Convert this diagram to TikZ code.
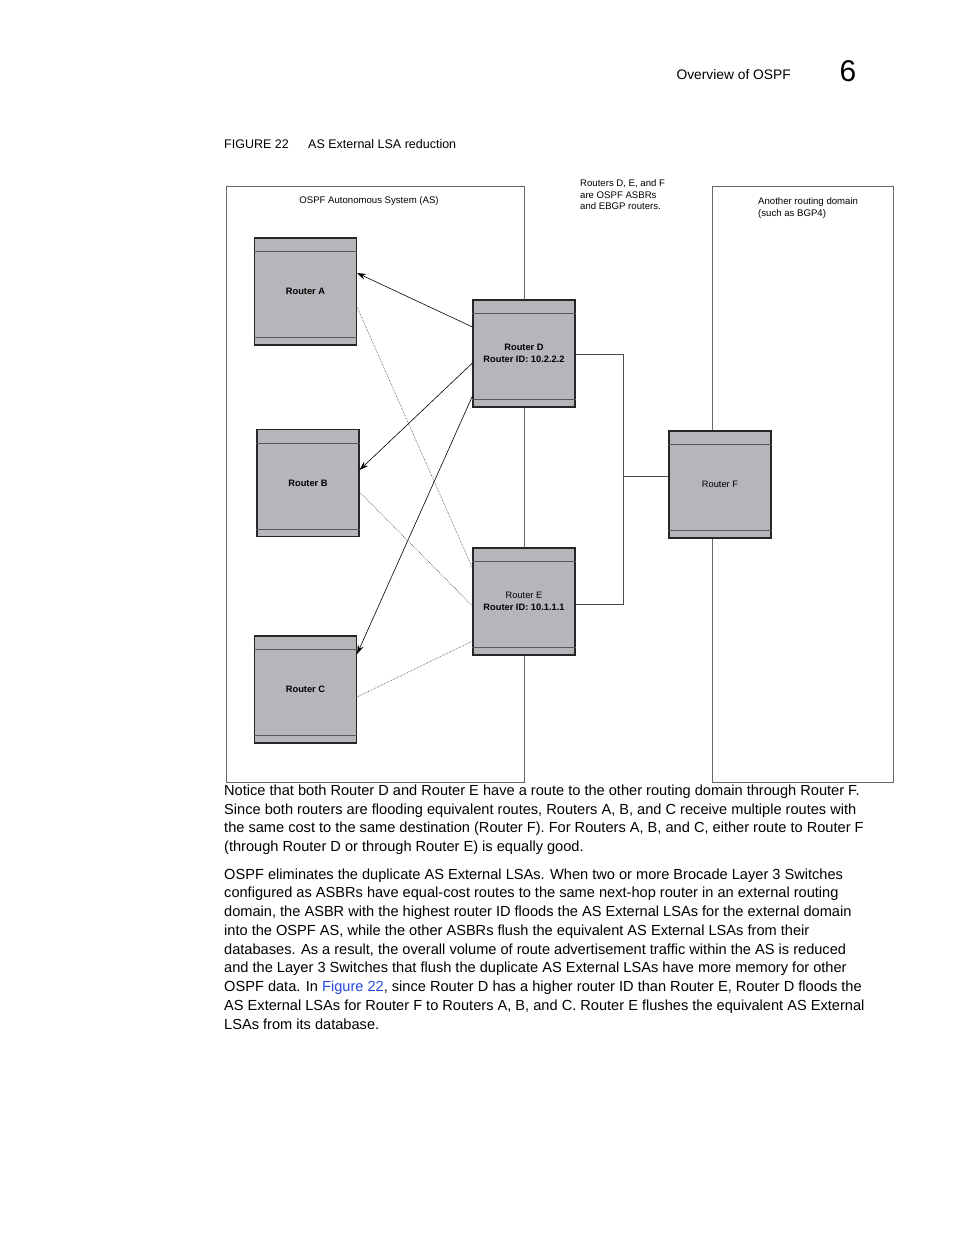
\documentclass[tikz,border=0pt]{standalone}
\usepackage{fontspec}
\setmainfont{Liberation Sans}
\usetikzlibrary{arrows.meta}
\definecolor{routergray}{HTML}{B5B6BA}
\definecolor{linkblue}{HTML}{2447E0}
\begin{document}
\begin{tikzpicture}[x=1pt,y=-1pt,
	router/.style={draw=black!85,line width=1.1pt,fill=routergray,minimum width=102pt,minimum height=107pt,inner sep=0pt,align=center,font=\fontsize{9.3}{11.5}\selectfont\bfseries},
	areabox/.style={draw=black!60,line width=0.6pt},
	band/.style={draw=black!65,line width=0.6pt},
	wire/.style={draw=black!70,line width=0.7pt},
	route/.style={line width=0.6pt,-{Stealth[length=9pt,width=6pt]}},
	flood/.style={line width=0.6pt,black!75,densely dotted},
	smalltext/.style={inner sep=0pt,align=left,font=\fontsize{9.6}{11.5}\selectfont},
	bodytext/.style={anchor=north west,inner sep=0pt,align=left,font=\fontsize{14.6}{18.75}\selectfont}]
	\useasboundingbox (0,0) rectangle (954,1235);
	% page header and caption
	\node[anchor=base east,inner sep=0pt,font=\fontsize{13.8}{16}\selectfont] (header) at (791,79) {Overview of OSPF};
	\node[anchor=base,inner sep=0pt,font=\fontsize{30}{32}\selectfont] (chapter) at (848,81) {6};
	\node[anchor=base west,inner sep=0pt,font=\fontsize{12.5}{15}\selectfont] (figno) at (224,148) {FIGURE 22};
	\node[anchor=base west,inner sep=0pt,font=\fontsize{12.5}{15}\selectfont] (figtitle) at (308,148) {AS External LSA reduction};
	% the two routing domains
	\draw[areabox] (226,186) rectangle (524,782);
	\draw[areabox] (712,186) rectangle (893,782);
	\node[smalltext] (asLabel) at (369,201) {OSPF Autonomous System (AS)};
	\node[smalltext,anchor=north west] (asbrNote) at (580,179.5) {Routers D, E, and F\\are OSPF ASBRs\\and EBGP routers.};
	\node[smalltext,anchor=north west] (bgpNote) at (758,197.5) {Another routing domain\\(such as BGP4)};
	% routers
	\node[router] (A) at (305.5,291.5) {Router A};
	\node[router] (B) at (308,483) {Router B};
	\node[router] (C) at (305.5,689.5) {Router C};
	\node[router] (D) at (524,353.5) {Router D\\Router ID: 10.2.2.2};
	\node[router] (E) at (524,601.5) {\mdseries Router E\\Router ID: \bfseries 10.1.1.1};
	\node[router,font=\fontsize{9.3}{11.5}\selectfont] (F) at (720,484.5) {Router F};
	\foreach \r in {A,B,C,D,E,F} {
		\draw[band] ([yshift=-14pt]\r.north west) -- ([yshift=-14pt]\r.north east);
		\draw[band] ([yshift=8pt]\r.south west) -- ([yshift=8pt]\r.south east);
	}
	% links to router F
	\coordinate (busD) at (623,354);
	\coordinate (busE) at (623,604);
	\coordinate (busF) at (623,476);
	\draw[wire] ([yshift=-0.5pt]D.east) -- (busD) -- (busE) -- ([yshift=-2.5pt]E.east);
	\draw[wire] (busF) -- ([yshift=8.5pt]F.west);
	% routes flooded by D
	\draw[route] ([yshift=26.5pt]D.west) -- ([yshift=18.5pt]A.east);
	\draw[route] ([yshift=-9.5pt]D.west) -- ([yshift=13pt]B.east);
	\draw[route] ([yshift=-42.5pt]D.west) -- ([yshift=35.5pt]C.east);
	% routes flushed by E
	\draw[flood] ([yshift=33.5pt]E.west) -- ([yshift=-15.5pt]A.east);
	\draw[flood] ([yshift=-4.5pt]E.west) -- ([yshift=-9pt]B.east);
	\draw[flood] ([yshift=-39.5pt]E.west) -- ([yshift=-7.5pt]C.east);
	% body text
	\node[bodytext] (notice) at (224,784.5) {Notice that both Router D and Router E have a route to the other routing domain through Router F.\\
		Since both routers are flooding equivalent routes, Routers A, B, and C receive multiple routes with\\
		the same cost to the same destination (Router F). For Routers A, B, and C, either route to Router F\\
		(through Router D or through Router E) is equally good.};
	\node[bodytext] (eliminate) at (224,868.3) {OSPF eliminates the duplicate AS External LSAs. When two or more Brocade Layer 3 Switches\\
		configured as ASBRs have equal-cost routes to the same next-hop router in an external routing\\
		domain, the ASBR with the highest router ID floods the AS External LSAs for the external domain\\
		into the OSPF AS, while the other ASBRs flush the equivalent AS External LSAs from their\\
		databases. As a result, the overall volume of route advertisement traffic within the AS is reduced\\
		and the Layer 3 Switches that flush the duplicate AS External LSAs have more memory for other\\
		OSPF data. In \textcolor{linkblue}{Figure 22}, since Router D has a higher router ID than Router E, Router D floods the\\
		AS External LSAs for Router F to Routers A, B, and C. Router E flushes the equivalent AS External\\
		LSAs from its database.};
\end{tikzpicture}
\end{document}
